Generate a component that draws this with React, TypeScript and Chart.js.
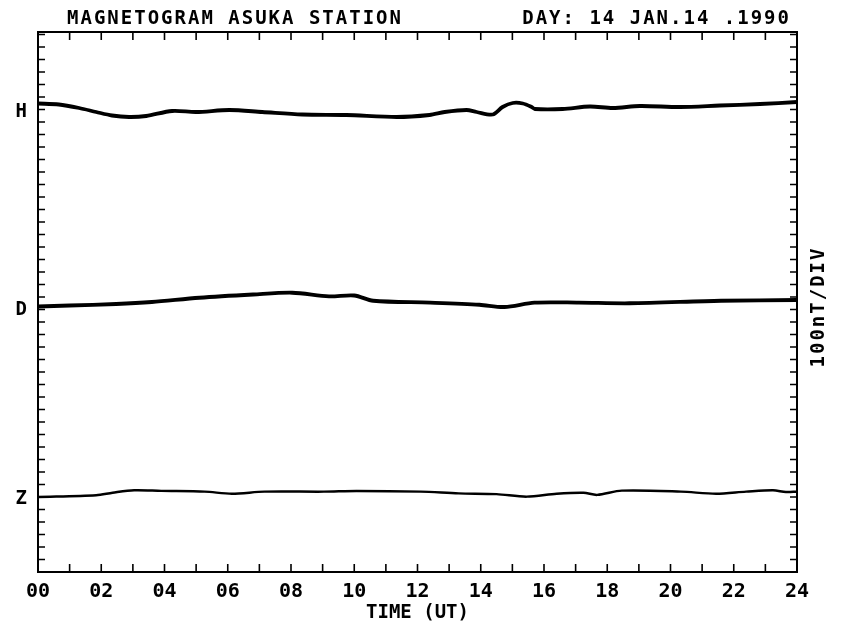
import { useEffect, useRef } from 'react';
import { Chart, registerables } from 'chart.js';

Chart.register(...registerables);

// ---- text ----
const TITLE_LEFT = 'MAGNETOGRAM ASUKA STATION';
const TITLE_RIGHT = 'DAY: 14 JAN.14 .1990';
const SCALE_NOTE = '100nT/DIV';
const X_TITLE = 'TIME (UT)';

// ---- axes ----
const X_MIN = 0;
const X_MAX = 24;
const X_LABEL_STEP = 2;
const Y_MIN = 0;
const Y_MAX = 4320; // plot height in nT (100 nT per division)
const Y_DIV = 100;
const TRACE_LABELS = ['Z', 'D', 'H'];
const TRACE_LABEL_LEVELS = [584, 2096, 3680];

// ---- H component (hours UT, plot level in nT) ----
const hHours = [0, 0.66, 1.3, 1.84, 2.34, 2.88, 3.42, 4.24, 5.0, 6.05, 7.09, 8.36, 9.75, 11.34, 12.38, 12.86, 13.55, 13.87, 14.38, 14.69, 15.01, 15.33, 15.61, 15.71, 16.59, 17.45, 18.18, 19.03, 20.3, 21.56, 22.83, 24];
const hValues = [3748, 3740, 3712, 3680, 3652, 3640, 3648, 3688, 3680, 3696, 3680, 3660, 3656, 3640, 3656, 3680, 3696, 3680, 3660, 3720, 3752, 3748, 3720, 3704, 3704, 3724, 3712, 3728, 3720, 3732, 3744, 3760];

// ---- D component ----
const dHours = [0, 1.0, 2.47, 3.6, 5.1, 6.8, 8.04, 9.2, 10.0, 10.6, 12.4, 13.96, 14.75, 15.7, 17.1, 18.7, 21.6, 24];
const dValues = [2124, 2132, 2144, 2160, 2194, 2220, 2234, 2205, 2212, 2170, 2155, 2138, 2120, 2155, 2155, 2150, 2170, 2176];

// ---- Z component ----
const zHours = [0, 1.84, 2.36, 3.04, 3.9, 5.27, 6.13, 7.16, 9.04, 10.07, 12.1, 13.3, 14.5, 15.45, 16.4, 17.25, 17.68, 18.46, 20.33, 21.44, 22.39, 23.24, 23.65, 24];
const zValues = [600, 614, 634, 654, 649, 643, 626, 643, 643, 649, 643, 629, 623, 603, 626, 634, 617, 651, 643, 626, 643, 654, 640, 643];

const FONT = '"DejaVu Sans Mono", monospace';

const toPoints = (xs: number[], ys: number[]) => xs.map((x, i) => ({ x, y: ys[i] }));

const framePlugin = {
  id: 'magFrame',
  afterDraw(chart: any) {
    const { ctx, chartArea: a, scales } = chart;
    const xs = scales.x;
    const ys = scales.y;
    ctx.save();
    ctx.strokeStyle = '#000';
    ctx.lineWidth = 2;
    ctx.strokeRect(a.left, a.top, a.right - a.left, a.bottom - a.top);
    ctx.lineWidth = 1.6;
    ctx.beginPath();
    for (let h = X_MIN; h <= X_MAX; h++) {
      const px = xs.getPixelForValue(h);
      ctx.moveTo(px, a.bottom);
      ctx.lineTo(px, a.bottom - 8);
      ctx.moveTo(px, a.top);
      ctx.lineTo(px, a.top + 8);
    }
    for (let v = Y_MIN + Y_DIV; v < Y_MAX; v += Y_DIV) {
      const py = ys.getPixelForValue(v);
      ctx.moveTo(a.left, py);
      ctx.lineTo(a.left + 7, py);
      ctx.moveTo(a.right, py);
      ctx.lineTo(a.right - 7, py);
    }
    ctx.stroke();

    ctx.fillStyle = '#000';
    ctx.font = `bold 19px ${FONT}`;
    (ctx as any).letterSpacing = '2px';
    ctx.textBaseline = 'middle';
    ctx.textAlign = 'left';
    ctx.fillText(TITLE_LEFT, 67, 19);
    ctx.textAlign = 'right';
    ctx.fillText(TITLE_RIGHT, 791, 19);

    ctx.translate(819, 307);
    ctx.rotate(-Math.PI / 2);
    ctx.textAlign = 'center';
    ctx.fillText(SCALE_NOTE, 0, 0);
    ctx.restore();
  },
};

export default function App() {
  const canvasRef = useRef<HTMLCanvasElement | null>(null);

  useEffect(() => {
    if (!canvasRef.current) return;
    const lineDs = (label: string, xs: number[], ys: number[], w: number) => ({
      label,
      data: toPoints(xs, ys),
      borderColor: '#000',
      backgroundColor: '#000',
      borderWidth: w,
      pointRadius: 0,
      tension: 0.3,
      fill: false,
    });
    const chart = new Chart(canvasRef.current, {
      type: 'line',
      data: {
        datasets: [
          lineDs('H', hHours, hValues, 3.8),
          lineDs('D', dHours, dValues, 3.8),
          lineDs('Z', zHours, zValues, 2.5),
        ],
      },
      options: {
        animation: false,
        responsive: true,
        maintainAspectRatio: false,
        color: '#000',
        layout: { padding: { top: 32, right: 46, left: 0, bottom: 0 } },
        plugins: { legend: { display: false }, tooltip: { enabled: false }, title: { display: false } },
        scales: {
          x: {
            type: 'linear',
            min: X_MIN,
            max: X_MAX,
            grid: { display: false, drawTicks: false },
            border: { display: false },
            afterFit: (s: any) => { s.height = 60; },
            ticks: {
              stepSize: 1,
              autoSkip: false,
              maxRotation: 0,
              padding: 8,
              color: '#000',
              font: { family: FONT, size: 20, weight: 'bold' },
              callback: (v: any) => (Number(v) % X_LABEL_STEP === 0 ? String(v).padStart(2, '0') : ''),
            },
            title: {
              display: true,
              text: X_TITLE,
              color: '#000',
              font: { family: FONT, size: 19, weight: 'bold' },
              padding: { top: 0, bottom: 8 },
            },
          },
          y: {
            type: 'linear',
            min: Y_MIN,
            max: Y_MAX,
            grid: { display: false, drawTicks: false },
            border: { display: false },
            afterFit: (s: any) => { s.width = 38; },
            afterBuildTicks: (s: any) => { s.ticks = TRACE_LABEL_LEVELS.map((value) => ({ value })); },
            ticks: {
              padding: 11,
              color: '#000',
              font: { family: FONT, size: 19, weight: 'bold' },
              callback: (_v: any, i: number) => TRACE_LABELS[i],
            },
          },
        },
      },
      plugins: [framePlugin],
    });
    return () => chart.destroy();
  }, []);

  return (
    <div style={{ position: 'fixed', left: 0, top: 0, width: 843, height: 632, background: '#fff' }}>
      <canvas ref={canvasRef} />
    </div>
  );
}
